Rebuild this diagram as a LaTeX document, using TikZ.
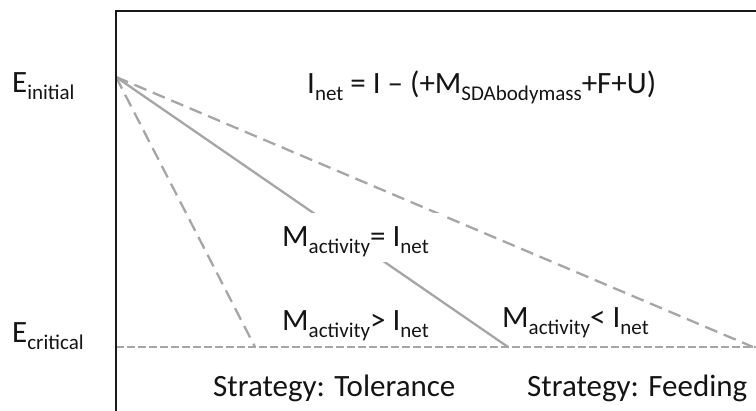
\documentclass[tikz,border=0pt]{standalone}
\usepackage{fontspec}
\setmainfont{Carlito}
\newcommand{\lowr}[1]{\raisebox{-7pt}{\fontsize{21}{21}\selectfont #1}}
\tikzset{
  lbl/.style={anchor=base west, inner sep=0pt, text=black!92, font=\fontsize{31}{31}\selectfont},
  guide/.style={draw=gray!70, line width=2.3pt, dash pattern=on 13pt off 7pt},
  crit/.style={draw=gray!70, line width=1.9pt, dash pattern=on 8pt off 3pt},
  eqline/.style={draw=gray!70, line width=2.3pt},
  axis/.style={draw=black!90, line width=2.6pt}
}
\begin{document}
\begin{tikzpicture}[x=1pt,y=-1pt]
\useasboundingbox (0,0) rectangle (756,411);
\coordinate (o) at (116,77);
\coordinate (tl) at (116,11);
\coordinate (tr) at (760,11);
\coordinate (bl) at (116,411);
\coordinate (cl) at (116,347);
\coordinate (cr) at (756,347);
\coordinate (pt) at (255,347);
\coordinate (pe) at (508,347);
\coordinate (pf) at (753,347);
\draw[crit] (cl) -- (cr);
\draw[guide] (o) -- (pt);
\draw[guide] (o) -- (pf);
\draw[eqline] (o) -- (pe);
\fill[white] (290,213.5) rectangle (447,262);
\draw[axis] (bl) -- (tl) -- (tr);
\node[lbl] (ei) at (12,93) {E\lowr{initial}};
\node[lbl] (ec) at (12,343) {E\lowr{critical}};
\node[lbl] (inet) at (307,94) {I\lowr{net} = I – (+M\lowr{SDAbodymass}+F+U)};
\node[lbl] (meq) at (282,247) {M\lowr{activity}= I\lowr{net}};
\node[lbl] (mgt) at (282,331) {M\lowr{activity}> I\lowr{net}};
\node[lbl] (mlt) at (502,328) {M\lowr{activity}< I\lowr{net}};
\node[lbl] (st) at (213,397) {Strategy: Tolerance};
\node[lbl] (sf) at (527,397) {Strategy: Feeding};
\end{tikzpicture}
\end{document}
